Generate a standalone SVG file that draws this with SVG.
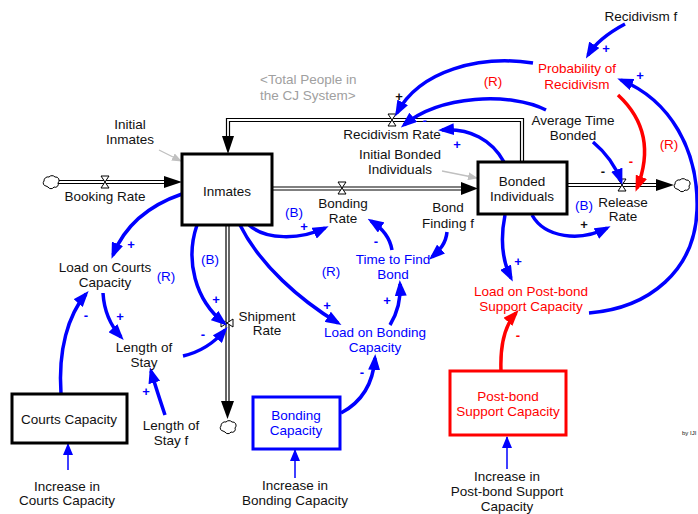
<svg xmlns="http://www.w3.org/2000/svg" width="698" height="514" viewBox="0 0 698 514">
<style>
text{font-family:"Liberation Sans",Arial,sans-serif;font-size:13.5px;fill:#111;text-anchor:middle}
.b{fill:#0000ff}.r{fill:#ff0000}.g{fill:#a0a0a0}
.s{font-weight:bold;font-size:13px}
.lk{fill:none;stroke:#0000ff;stroke-width:3.5}
.lr{fill:none;stroke:#ff0000;stroke-width:3.5}
.lt{fill:none;stroke:#0000ff;stroke-width:1.5}
.lg{fill:none;stroke:#c0c0c0;stroke-width:1.3}
.po{fill:none;stroke:#000;stroke-width:4.2}
.pi{fill:none;stroke:#fff;stroke-width:1.8}
.v{fill:#fff;stroke:#000;stroke-width:1}
.cl{fill:#fff;stroke:#000;stroke-width:1}
.box{fill:#fff;stroke:#000;stroke-width:3}
</style>
<defs>
<marker id="ab" markerUnits="userSpaceOnUse" markerWidth="16" markerHeight="12" refX="12" refY="6" orient="auto"><path d="M0,0 L16,6 L0,12 z" fill="#0000ff"/></marker>
<marker id="ar" markerUnits="userSpaceOnUse" markerWidth="16" markerHeight="12" refX="12" refY="6" orient="auto"><path d="M0,0 L16,6 L0,12 z" fill="#ff0000"/></marker>
<marker id="at" markerUnits="userSpaceOnUse" markerWidth="12" markerHeight="10" refX="11" refY="5" orient="auto"><path d="M0,0 L12,5 L0,10 z" fill="#0000ff"/></marker>
<marker id="ag" markerUnits="userSpaceOnUse" markerWidth="10" markerHeight="8" refX="9" refY="4" orient="auto"><path d="M0,0 L10,4 L0,8 z" fill="#c0c0c0"/></marker>
<path id="cloud" d="M-5,4 a3,3 0 0 1 -2,-5 a4,4 0 0 1 5,-4 a4,4 0 0 1 6,0 a3.5,3.5 0 0 1 3,6 a3,3 0 0 1 -4,4 a3.5,3.5 0 0 1 -6,0 z"/>
</defs>

<g id="flows">
<path class="po" d="M58,182 H166"/><path class="pi" d="M58,182 H166"/>
<polygon points="164,176 182,182 164,188" fill="#000"/>
<path class="po" d="M272,188.5 H463"/><path class="pi" d="M272,188.5 H463"/>
<polygon points="461,182 478,188.5 461,195" fill="#000"/>
<path class="po" d="M567,185 H658"/><path class="pi" d="M567,185 H658"/>
<polygon points="656,179 674,185 656,191" fill="#000"/>
<path class="po" d="M522,162 V120 H228 V138"/><path class="pi" d="M522,162 V120 H228 V138"/>
<polygon points="222,136 228,154 234,136" fill="#000"/>
<path class="po" d="M227.5,225 V403"/><path class="pi" d="M227.5,225 V403"/>
<polygon points="221,401 227.5,419 234,401" fill="#000"/>
<use href="#cloud" class="cl" x="51" y="182"/>
<use href="#cloud" class="cl" x="682" y="185"/>
<use href="#cloud" class="cl" x="228" y="427"/>
<polygon class="v" points="101,176 109,176 101,188 109,188"/>
<polygon class="v" points="338,182 346,182 338,194 346,194"/>
<polygon class="v" points="618,179 626,179 618,191 626,191"/>
<polygon class="v" points="388,114 396,114 388,126 396,126"/>
<polygon class="v" points="221,319 221,327 233,319 233,327"/>
</g>

<g id="connectors">
<path class="lk" d="M625,24 C610,32 596,42 588,55" marker-end="url(#ab)"/>
<path class="lk" d="M533,63 C480,55 420,70 397,113" marker-end="url(#ab)"/>
<path class="lk" d="M546,110 C510,92 440,95 404,125" marker-end="url(#ab)"/>
<path class="lk" d="M504,162 C492,140 470,128 442,130" marker-end="url(#ab)"/>
<path class="lk" d="M593,142 C605,152 615,165 621,181" marker-end="url(#ab)"/>
<path class="lr" d="M618,95 C645,120 652,150 637,188" marker-end="url(#ar)"/>
<path class="lk" d="M589,313 C650,308 695,270 697,210 C699,150 670,100 621,80" marker-end="url(#ab)"/>
<path class="lk" d="M532,215 C545,238 580,242 607,228" marker-end="url(#ab)"/>
<path class="lk" d="M505,215 C500,240 502,260 511,278" marker-end="url(#ab)"/>
<path class="lr" d="M501,371 C500,345 505,325 516,313" marker-end="url(#ar)"/>
<path class="lt" d="M507,469 V437" marker-end="url(#at)"/>
<path class="lt" d="M295,478 V450" marker-end="url(#at)"/>
<path class="lt" d="M68,470 V444" marker-end="url(#at)"/>
<path class="lk" d="M341,413 C360,403 373,385 375,358" marker-end="url(#ab)"/>
<path class="lk" d="M390,325 C398,312 401,300 400,284" marker-end="url(#ab)"/>
<path class="lk" d="M392,250 C390,238 382,228 371,221" marker-end="url(#ab)"/>
<path class="lk" d="M447,232 C446,243 440,250 432,257" marker-end="url(#ab)"/>
<path class="lk" d="M249,225 C265,240 300,240 325,228" marker-end="url(#ab)"/>
<path class="lk" d="M240,225 C260,265 300,300 338,323" marker-end="url(#ab)"/>
<path class="lk" d="M197,225 C185,260 195,300 224,323" marker-end="url(#ab)"/>
<path class="lk" d="M182,194 C150,205 125,225 113,255" marker-end="url(#ab)"/>
<path class="lk" d="M103,293 C104,310 110,325 121,337" marker-end="url(#ab)"/>
<path class="lk" d="M183,356 C200,352 215,342 225,330" marker-end="url(#ab)"/>
<path class="lk" d="M61,394 C58,350 68,315 86,294" marker-end="url(#ab)"/>
<path class="lk" d="M165,415 C160,400 155,385 151,371" marker-end="url(#ab)"/>
<path class="lg" d="M442,171 L477,178" marker-end="url(#ag)"/>
<path class="lg" d="M159,150 L181,161" marker-end="url(#ag)"/>
</g>

<g id="polarities">
<text class="s b" x="606" y="53">+</text>
<text class="s b" x="640" y="80">+</text>
<text class="s" x="399" y="101">+</text>
<text class="s b" x="425" y="125">-</text>
<text class="s b" x="457" y="149">+</text>
<text class="s" x="603" y="176">-</text>
<text class="s r" x="631" y="166">-</text>
<text class="s" x="584" y="229">+</text>
<text class="s b" x="518" y="266">+</text>
<text class="s r" x="518" y="340">-</text>
<text class="s b" x="304" y="231">+</text>
<text class="s b" x="376" y="246">-</text>
<text class="s b" x="216" y="304">+</text>
<text class="s b" x="327" y="310">+</text>
<text class="s b" x="387" y="305">+</text>
<text class="s b" x="203" y="339">-</text>
<text class="s b" x="131" y="249">+</text>
<text class="s b" x="86" y="320">-</text>
<text class="s b" x="120" y="321">+</text>
<text class="s b" x="146" y="396">+</text>
<text class="s b" x="362" y="377">-</text>
<text class="r" x="493" y="86">(R)</text>
<text class="r" x="669" y="149">(R)</text>
<text class="b" x="584" y="210">(B)</text>
<text class="b" x="294" y="217">(B)</text>
<text class="b" x="331" y="276">(R)</text>
<text class="b" x="210" y="264">(B)</text>
<text class="b" x="166" y="281">(R)</text>
</g>

<g id="inmates"><rect class="box" x="182" y="154" width="90" height="71"/><text x="227" y="196">Inmates</text></g>
<g id="bonded"><rect class="box" x="478" y="162" width="89" height="52"/><text x="522" y="186">Bonded</text><text x="522" y="201">Individuals</text></g>
<g id="courts-capacity"><rect class="box" x="12" y="394" width="115" height="49"/><text x="69" y="424">Courts Capacity</text></g>
<g id="bonding-capacity"><rect class="box" style="stroke:#0000ff" x="253" y="397" width="87" height="52"/><text class="b" x="296" y="420">Bonding</text><text class="b" x="296" y="435">Capacity</text></g>
<g id="postbond-capacity"><rect class="box" style="stroke:#ff0000" x="450" y="371" width="116" height="64"/><text class="r" x="508" y="401">Post-bond</text><text class="r" x="508" y="416">Support Capacity</text></g>

<g id="recidivism-f"><text x="641" y="21">Recidivism f</text></g>
<g id="prob-recidivism"><text class="r" x="577" y="73">Probability of</text><text class="r" x="577" y="89">Recidivism</text></g>
<g id="avg-time-bonded"><text x="573" y="125">Average Time</text><text x="573" y="140">Bonded</text></g>
<g id="recidivism-rate"><text x="392" y="139">Recidivism Rate</text></g>
<g id="initial-bonded"><text x="400" y="159">Initial Bonded</text><text x="400" y="174">Individuals</text></g>
<g id="initial-inmates"><text x="130" y="129">Initial</text><text x="130" y="144">Inmates</text></g>
<g id="total-people"><text class="g" style="text-anchor:start" x="260" y="84">&lt;Total People in</text><text class="g" style="text-anchor:start" x="260" y="100">the CJ System&gt;</text></g>
<g id="booking-rate"><text x="105" y="201">Booking Rate</text></g>
<g id="bonding-rate"><text x="343" y="208">Bonding</text><text x="343" y="223">Rate</text></g>
<g id="bond-finding-f"><text x="448" y="212">Bond</text><text x="448" y="228">Finding f</text></g>
<g id="release-rate"><text x="623" y="207">Release</text><text x="623" y="221">Rate</text></g>
<g id="time-to-find-bond"><text class="b" x="393" y="264">Time to Find</text><text class="b" x="393" y="279">Bond</text></g>
<g id="load-courts"><text x="105" y="272">Load on Courts</text><text x="105" y="287">Capacity</text></g>
<g id="length-of-stay"><text x="144" y="352">Length of</text><text x="144" y="367">Stay</text></g>
<g id="shipment-rate"><text x="267" y="321">Shipment</text><text x="267" y="335">Rate</text></g>
<g id="load-bonding"><text class="b" x="375" y="337">Load on Bonding</text><text class="b" x="375" y="352">Capacity</text></g>
<g id="load-postbond"><text class="r" x="531" y="296">Load on Post-bond</text><text class="r" x="531" y="311">Support Capacity</text></g>
<g id="length-of-stay-f"><text x="171" y="430">Length of</text><text x="171" y="445">Stay f</text></g>
<g id="inc-courts"><text x="67" y="491">Increase in</text><text x="67" y="505">Courts Capacity</text></g>
<g id="inc-bonding"><text x="295" y="490">Increase in</text><text x="295" y="505">Bonding Capacity</text></g>
<g id="inc-postbond"><text x="507" y="481">Increase in</text><text x="507" y="496">Post-bond Support</text><text x="507" y="511">Capacity</text></g>
<g id="credit"><text style="text-anchor:start;font-size:6px" x="682" y="435">by IJI</text></g>
</svg>
